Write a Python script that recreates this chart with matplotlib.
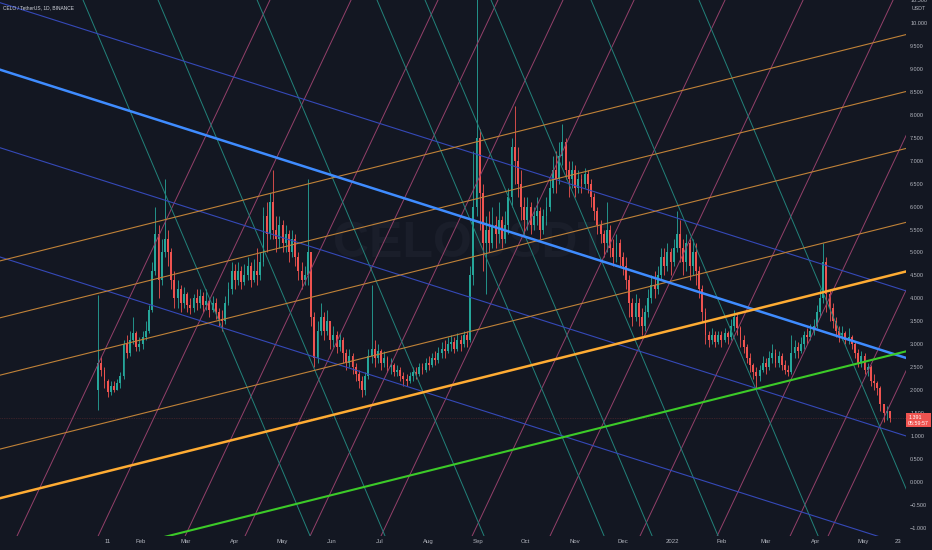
import matplotlib
matplotlib.use('Agg')
import matplotlib.pyplot as plt
import matplotlib.dates as mdates
from matplotlib.patches import Rectangle
from datetime import datetime, timedelta

BASE = datetime(2021, 1, 1)

# ---------------- candle data (2-day candles from 2021-01-05) ----------------
candle_start = datetime(2021, 1, 5)
candle_step_days = 2
first_open = 2.0
closes = [2.6, 2.45, 2.2, 1.95, 2.1, 2.0, 2.15, 2.3, 3.0, 2.8,
          3.1, 3.25, 2.95, 3.0, 3.15, 3.3, 3.75, 4.6, 5.4, 4.4,
          5.0, 5.3, 5.0, 4.4, 4.0, 4.2, 3.9, 4.1, 3.85, 3.8,
          4.0, 3.9, 4.05, 3.85, 3.95, 3.75, 3.9, 3.7, 3.55, 3.5,
          3.9, 4.2, 4.6, 4.4, 4.6, 4.35, 4.5, 4.7, 4.4, 4.6,
          4.5, 4.8, 5.8, 5.4, 6.1, 5.5, 5.3, 5.6, 5.2, 5.4,
          5.0, 5.3, 4.9, 4.6, 4.4, 4.5, 5.0, 3.6, 2.7, 3.3,
          3.6, 3.3, 3.5, 3.1, 3.2, 2.95, 3.1, 2.8, 2.6, 2.75,
          2.5, 2.35, 2.2, 2.0, 2.3, 2.75, 2.9, 2.7, 2.85, 2.6,
          2.7, 2.5, 2.55, 2.4, 2.45, 2.3, 2.25, 2.2, 2.3, 2.4,
          2.35, 2.5, 2.45, 2.6, 2.55, 2.7, 2.65, 2.8, 2.9, 2.85,
          3.0, 3.05, 2.9, 3.1, 3.0, 3.2, 3.1, 4.5, 6.0, 7.5,
          6.3, 5.2, 5.5, 5.2, 5.6, 5.4, 5.7, 5.3, 5.6, 6.2,
          7.3, 7.0, 6.5, 6.0, 5.7, 6.0, 5.6, 5.8, 5.9, 5.5,
          5.8, 6.0, 6.4, 6.8, 6.6, 7.1, 7.4, 6.8, 6.6, 6.8,
          6.4, 6.6, 6.5, 6.7, 6.5, 6.2, 5.9, 5.6, 5.4, 5.2,
          5.5, 5.1, 4.9, 5.2, 4.9, 4.7, 4.4, 3.9, 3.6, 3.9,
          3.6, 3.4, 3.7, 4.0, 4.3, 4.2, 4.5, 4.9, 4.7, 5.0,
          4.8, 5.1, 5.4, 5.1, 4.8, 5.2, 4.7, 5.0, 4.6, 4.2,
          3.7, 3.2, 3.1, 3.2, 3.05, 3.2, 3.1, 3.25, 3.15, 3.4,
          3.6, 3.35, 3.1, 2.95, 2.7, 2.55, 2.4, 2.3, 2.45, 2.6,
          2.5, 2.7, 2.8, 2.6, 2.75, 2.55, 2.45, 2.4, 2.8, 2.95,
          2.85, 3.0, 3.2, 3.15, 3.3, 3.4, 3.7, 4.0, 4.8, 4.1,
          3.8, 3.5, 3.3, 3.2, 3.25, 3.1, 3.15, 3.0, 2.8, 2.6,
          2.75, 2.45, 2.5, 2.2, 2.15, 2.05, 1.7, 1.5, 1.55, 1.39]
highs = [4.07, 2.75, 2.5, 2.25, 2.2, 2.2, 2.25, 2.4, 3.1, 3.2,
         3.3, 3.6, 3.3, 3.15, 3.3, 3.5, 3.85, 4.8, 6.0, 5.6,
         5.3, 6.6, 5.5, 5.1, 4.6, 4.4, 4.3, 4.25, 4.15, 4.0,
         4.1, 4.2, 4.2, 4.15, 4.2, 4.0, 4.05, 4.0, 3.8, 3.75,
         4.05, 4.35, 4.8, 4.75, 4.8, 4.7, 4.75, 4.9, 4.8, 4.85,
         5.1, 5.0, 6.0, 6.1, 6.3, 6.8, 5.8, 5.8, 5.7, 5.6,
         5.5, 5.5, 5.4, 5.0, 4.8, 4.7, 6.6, 5.0, 3.7, 3.5,
         3.9, 3.7, 3.75, 3.5, 3.4, 3.3, 3.25, 3.15, 2.9, 2.9,
         2.8, 2.6, 2.45, 2.3, 2.4, 2.9, 4.3, 3.1, 3.0, 2.9,
         2.85, 2.75, 2.7, 2.6, 2.55, 2.5, 2.4, 2.35, 2.4, 2.5,
         2.5, 2.6, 2.6, 2.7, 2.75, 2.8, 2.85, 2.95, 3.05, 3.1,
         3.15, 3.2, 3.15, 3.25, 3.2, 3.3, 3.3, 4.7, 7.2, 10.6,
         7.7, 6.5, 5.8, 5.9, 6.0, 5.8, 6.1, 5.8, 5.9, 6.4,
         7.5, 8.2, 7.3, 6.8, 6.2, 6.2, 6.1, 6.0, 6.2, 6.0,
         5.95, 6.2, 6.6, 7.1, 7.2, 7.4, 7.8, 7.5, 7.0, 7.0,
         6.9, 6.8, 6.7, 6.85, 6.8, 6.6, 6.3, 6.0, 5.7, 5.5,
         6.1, 5.6, 5.3, 5.4, 5.3, 5.0, 4.9, 4.5, 4.0, 4.1,
         4.0, 3.8, 3.85, 4.2, 4.5, 4.6, 4.7, 5.1, 5.1, 5.2,
         5.1, 5.3, 5.9, 5.7, 5.3, 5.4, 5.3, 5.3, 5.2, 4.7,
         4.3, 3.8, 3.3, 3.35, 3.3, 3.3, 3.3, 3.35, 3.3, 3.55,
         3.75, 3.65, 3.4, 3.2, 3.0, 2.8, 2.6, 2.5, 2.55, 2.75,
         2.7, 2.85, 3.0, 2.9, 2.85, 2.8, 2.65, 2.55, 3.2, 3.1,
         3.05, 3.15, 3.3, 3.35, 3.45, 3.55, 3.85, 4.2, 5.2, 4.9,
         4.2, 3.9, 3.6, 3.4, 3.4, 3.3, 3.35, 3.2, 3.05, 2.9,
         2.85, 2.8, 2.6, 2.55, 2.35, 2.2, 2.1, 1.7, 1.65, 1.55]
lows = [1.57, 2.3, 2.05, 1.85, 1.9, 1.95, 2.0, 2.05, 2.25, 2.7,
        2.75, 3.0, 2.85, 2.85, 2.9, 3.1, 3.25, 3.7, 4.5, 4.0,
        4.3, 4.9, 4.7, 4.2, 3.8, 3.8, 3.7, 3.8, 3.7, 3.65,
        3.7, 3.75, 3.8, 3.7, 3.75, 3.6, 3.7, 3.55, 3.4, 3.3,
        3.45, 3.85, 4.1, 4.2, 4.3, 4.2, 4.3, 4.4, 4.25, 4.35,
        4.3, 4.4, 4.7, 5.0, 5.3, 5.3, 5.0, 5.1, 5.0, 5.0,
        4.8, 4.9, 4.7, 4.4, 4.2, 4.3, 4.3, 3.4, 2.5, 2.6,
        3.2, 3.1, 3.2, 2.9, 2.95, 2.8, 2.85, 2.6, 2.45, 2.5,
        2.35, 2.2, 2.05, 1.85, 1.9, 2.25, 2.6, 2.5, 2.6, 2.45,
        2.5, 2.4, 2.35, 2.3, 2.3, 2.2, 2.1, 2.1, 2.15, 2.2,
        2.25, 2.3, 2.35, 2.4, 2.45, 2.5, 2.55, 2.6, 2.7, 2.7,
        2.8, 2.85, 2.8, 2.85, 2.85, 2.95, 2.95, 3.05, 4.3, 5.8,
        5.5, 4.6, 4.1, 5.0, 5.1, 5.1, 5.2, 5.1, 5.2, 5.4,
        6.0, 6.5, 6.2, 5.7, 5.4, 5.5, 5.4, 5.5, 5.6, 5.3,
        5.4, 5.6, 5.9, 6.3, 6.3, 6.5, 6.9, 6.6, 6.2, 6.4,
        6.2, 6.3, 6.3, 6.4, 6.3, 6.0, 5.7, 5.4, 5.2, 4.9,
        5.0, 4.9, 4.7, 4.8, 4.7, 4.5, 4.2, 3.6, 3.4, 3.5,
        3.4, 3.2, 3.3, 3.6, 3.9, 4.0, 4.1, 4.4, 4.5, 4.6,
        4.5, 4.7, 5.0, 4.8, 4.5, 4.6, 4.4, 4.5, 4.3, 4.0,
        3.5, 3.0, 2.95, 3.0, 2.95, 3.0, 2.95, 3.05, 3.0, 3.1,
        3.3, 3.2, 2.95, 2.8, 2.6, 2.4, 2.25, 2.05, 2.2, 2.4,
        2.35, 2.45, 2.6, 2.5, 2.5, 2.45, 2.35, 2.3, 2.35, 2.7,
        2.7, 2.8, 2.9, 3.0, 3.1, 3.2, 3.35, 3.6, 3.9, 3.7,
        3.5, 3.35, 3.15, 3.05, 3.1, 3.0, 3.0, 2.9, 2.7, 2.5,
        2.5, 2.35, 2.3, 2.1, 2.0, 1.9, 1.55, 1.3, 1.35, 1.3]

# ---------------- drawing-tool lines ----------------
line_start = datetime(2020, 10, 1)
line_end = datetime(2022, 7, 1)
blue_thin_start = [10.82, 7.66, 5.28]
blue_thin_end = [3.79, 0.63, -1.75]
blue_thick_start, blue_thick_end = 9.36, 2.33
orange_thin_start = [4.52, 3.28, 2.03, 0.42]
orange_thin_end = [10.04, 8.80, 7.56, 5.95]
orange_thick_start, orange_thick_end = -0.65, 4.88
green_start, green_end = -2.39, 3.14

steep_low_price, steep_high_price = -1.5, 11.0
# pink lines rising: day offsets (from 2021-01-01) at low and high price
pink_low_day = [-51.4, -0.4, 54.3, 92.0, 132.9, 177.5, 234.8, 283.8, 340.4, 388.9, 434.8, 458.7]
pink_high_day = [118.9, 169.9, 224.6, 262.3, 303.2, 347.9, 405.1, 454.2, 510.8, 559.2, 605.1, 629.0]
# teal lines falling
teal_high_day = [-11.6, 35.6, 97.9, 173.3, 203.5, 245.0, 307.9, 375.8]
teal_low_day = [141.3, 188.4, 250.7, 326.2, 356.4, 397.9, 460.8, 528.7]

last_price = 1.391
last_price_text = "1.391"
countdown_text = "05:59:57"

y_ticks = [-1.0, -0.5, 0.0, 0.5, 1.0, 1.5, 2.0, 2.5, 3.0, 3.5, 4.0, 4.5,
           5.0, 5.5, 6.0, 6.5, 7.0, 7.5, 8.0, 8.5, 9.0, 9.5, 10.0, 10.5]
x_tick_dates = ['2021-01-11', '2021-02-01', '2021-03-01', '2021-04-01', '2021-05-01',
                '2021-06-01', '2021-07-01', '2021-08-01', '2021-09-01', '2021-10-01',
                '2021-11-01', '2021-12-01', '2022-01-01', '2022-02-01', '2022-03-01',
                '2022-04-01', '2022-05-01', '2022-05-23']
x_tick_labels = ['11', 'Feb', 'Mar', 'Apr', 'May', 'Jun', 'Jul', 'Aug', 'Sep', 'Oct',
                 'Nov', 'Dec', '2022', 'Feb', 'Mar', 'Apr', 'May', '23']

# ---------------- styling ----------------
BG = '#131722'
TXT = '#b2b5be'
UP = '#26a69a'
DOWN = '#ef5350'

plt.rcParams['font.family'] = ['Liberation Sans', 'DejaVu Sans']
fig = plt.figure(figsize=(9.32, 5.5), dpi=100, facecolor=BG)
ax = fig.add_axes([0, 14 / 550, 906 / 932, 536 / 550])
ax.set_facecolor(BG)
for s in ax.spines.values():
    s.set_visible(False)

def D(days):
    return mdates.date2num(BASE + timedelta(days=days))

x0 = D(-57.7)
x1 = D(512.1)
ax.set_xlim(x0, x1)
ax.set_ylim(-1.176, 10.50)

# watermark
ax.text(0.519, 0.545, 'CELOUSDT', transform=ax.transAxes, ha='center', va='center',
        fontsize=36, color='#1a1e2a', fontweight='bold', zorder=0)

# candles
prev = first_open
cw = candle_step_days * 0.6
for i, (c, h, l) in enumerate(zip(closes, highs, lows)):
    o = prev
    t = mdates.date2num(candle_start + timedelta(days=i * candle_step_days))
    col = UP if c >= o else DOWN
    ax.plot([t, t], [l, h], color=col, lw=0.6, zorder=2, solid_capstyle='butt')
    bot = min(o, c)
    ht = max(abs(c - o), 0.01)
    ax.add_patch(Rectangle((t - cw / 2, bot), cw, ht, facecolor=col, edgecolor='none', zorder=3))
    prev = c

ls, le = mdates.date2num(line_start), mdates.date2num(line_end)
# steep lines
for a, b in zip(pink_low_day, pink_high_day):
    ax.plot([D(a), D(b)], [steep_low_price, steep_high_price], color='#93406a', lw=0.7, zorder=4)
for a, b in zip(teal_high_day, teal_low_day):
    ax.plot([D(a), D(b)], [steep_high_price, steep_low_price], color='#22827a', lw=0.7, zorder=4)
# channels
for a, b in zip(blue_thin_start, blue_thin_end):
    ax.plot([ls, le], [a, b], color='#3549b8', lw=0.8, zorder=5)
for a, b in zip(orange_thin_start, orange_thin_end):
    ax.plot([ls, le], [a, b], color='#c08238', lw=0.8, zorder=5)
ax.plot([ls, le], [blue_thick_start, blue_thick_end], color='#3f8cff', lw=1.8, zorder=6)
ax.plot([ls, le], [orange_thick_start, orange_thick_end], color='#ffac33', lw=1.8, zorder=6)
ax.plot([ls, le], [green_start, green_end], color='#3ccb28', lw=1.5, zorder=6)

# last price line
ax.axhline(last_price, color=DOWN, lw=0.5, alpha=0.35, ls=(0, (1, 1.5)), zorder=1)

# axes ticks
ax.yaxis.tick_right()
ax.set_yticks(y_ticks)
ax.set_yticklabels([('\u2212' if v < 0 else '') + '%.3f' % abs(v) for v in y_ticks])
ax.tick_params(axis='y', length=0, pad=3, labelsize=4.0, colors=TXT)
ax.set_xticks([mdates.date2num(datetime.strptime(d, '%Y-%m-%d')) for d in x_tick_dates])
ax.set_xticklabels(x_tick_labels)
ax.tick_params(axis='x', length=0, pad=2.5, labelsize=4.3, colors=TXT)

fig.text(912 / 932, 1 - 8 / 550, 'USDT', ha='left', va='center', fontsize=3.8, color=TXT)

# last price label
ax.annotate(last_price_text + '\n' + countdown_text, xy=(1.0, last_price),
            xycoords=('axes fraction', 'data'), xytext=(1.5, -1.5), textcoords='offset points',
            ha='left', va='center', fontsize=3.8, color='white', linespacing=1.15,
            bbox=dict(boxstyle='square,pad=0.35', fc=DOWN, ec='none'), annotation_clip=False, zorder=10)

# title
ax.text(3 / 906, 1 - 8 / 536, 'CELO / TetherUS, 1D, BINANCE', transform=ax.transAxes,
        ha='left', va='center', fontsize=3.5, color='#d1d4dc', zorder=10)

fig.savefig('out.png', dpi=100, facecolor=BG)
